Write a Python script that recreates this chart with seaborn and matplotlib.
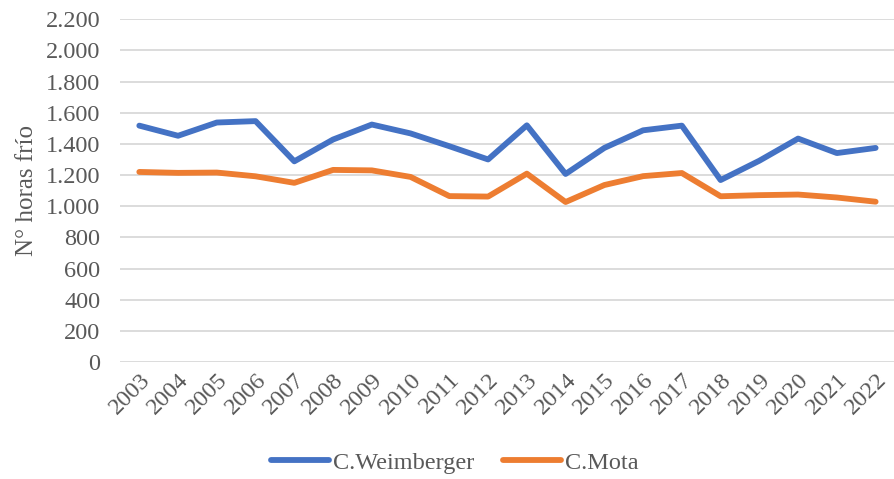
import pandas as pd
import matplotlib
matplotlib.use("Agg")
import matplotlib.pyplot as plt
import seaborn as sns
from matplotlib.ticker import FuncFormatter

years = list(range(2003, 2023))
weimberger = [1517, 1452, 1537, 1546, 1288, 1428, 1524, 1467, 1385, 1300,
              1519, 1207, 1374, 1487, 1517, 1168, 1292, 1434, 1341, 1374]
mota = [1220, 1214, 1216, 1192, 1150, 1233, 1230, 1188, 1065, 1062,
        1209, 1027, 1136, 1193, 1213, 1064, 1071, 1075, 1056, 1029]
series_names = ["C.Weimberger", "C.Mota"]

df = pd.DataFrame({
    "year": years * 2,
    "horas": weimberger + mota,
    "serie": [series_names[0]] * len(years) + [series_names[1]] * len(years),
})

sns.set_theme(style="white")
plt.rcParams["font.family"] = ["Liberation Serif", "DejaVu Serif"]
txt = "#595959"

fig = plt.figure(figsize=(8.95, 4.79), dpi=100)
ax = fig.add_axes([0.134, 0.244, 0.866, 0.716])

sns.lineplot(data=df, x="year", y="horas", hue="serie",
             palette=["#4472C4", "#ED7D31"], linewidth=4.2, ax=ax,
             legend=True)

ax.set_ylim(0, 2200)
ax.set_yticks(range(0, 2201, 200))
ax.yaxis.set_major_formatter(FuncFormatter(lambda v, p: f"{int(v):,}".replace(",", ".")))
ax.set_xlim(2002.5, 2022.5)
ax.set_xticks(years)
ax.set_xticklabels([str(y) for y in years], rotation=45, ha="right",
                   rotation_mode="anchor")
ax.grid(axis="y", color="#D9D9D9", linewidth=1.3)
ax.set_axisbelow(True)
for s in ax.spines.values():
    s.set_visible(False)
ax.tick_params(axis="both", length=0, labelsize=17.5, labelcolor=txt)
ax.tick_params(axis="y", pad=14)
ax.tick_params(axis="x", pad=5)
ax.set_xlabel("")
ax.set_ylabel("N° horas frío", fontsize=18, color=txt, labelpad=6)

handles, labels = ax.get_legend_handles_labels()
ax.get_legend().remove()
fig.legend(handles, labels, loc="lower center", bbox_to_anchor=(0.508, -0.035),
           ncol=2, frameon=False, fontsize=17.5, labelcolor=txt,
           handlelength=2.4, handletextpad=0.15, columnspacing=1.2)

fig.savefig("out.png", dpi=100)
